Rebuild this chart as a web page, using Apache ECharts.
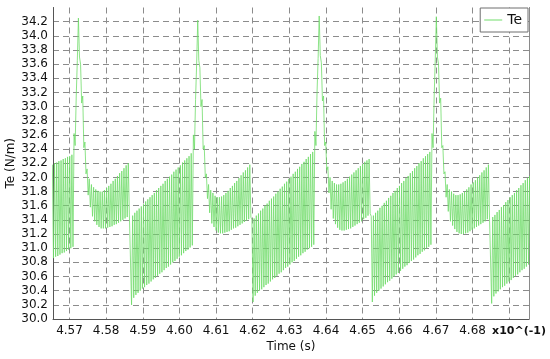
<!DOCTYPE html>
<html>
<head>
<meta charset="utf-8">
<script src="https://cdn.jsdelivr.net/npm/echarts@6/dist/echarts.min.js"></script>
<style>
html,body{margin:0;padding:0;background:#fff;}
#chart{width:550px;height:359px;}
</style>
</head>
<body>
<div id="chart"></div>
<script>
// Sampling of the torque trace (time axis in units of x10^-1 s)
const timeStart = 4.56533;   // time of first sample
const timeStep = 0.000592;   // one switching period
// Te at the first half of each switching period (N/m)
const teA = [
 32.18,32.2,32.21,32.23,32.24,32.26,32.27,32.29,32.3,32.32,
 32.62,33.15,34.25,33.6,33.15,32.5,32.12,31.98,31.9,
 31.86,31.83,31.81,31.8,31.8,31.82,31.85,31.88,31.91,31.95,31.98,32.02,32.06,32.09,32.13,32.17,32.2,
 31.45,
 31.46,31.5,31.53,31.56,31.59,31.62,31.66,31.69,31.72,31.75,31.78,31.82,31.85,31.88,31.91,31.95,31.98,32.01,32.04,32.08,32.11,32.14,32.17,32.21,32.24,32.27,32.3,32.34,
 32.6,33.1,34.22,33.55,33.1,32.45,32.05,31.9,31.82,
 31.78,31.74,31.72,31.72,31.73,31.75,31.78,31.81,31.85,31.88,31.92,31.95,31.99,32.03,32.07,32.1,32.14,32.18,
 31.4,
 31.42,31.46,31.49,31.53,31.56,31.6,31.63,31.67,31.7,31.73,31.77,31.8,31.84,31.87,31.91,31.94,31.98,32.01,32.05,32.08,32.12,32.15,32.19,32.22,32.26,32.29,32.33,32.36,
 32.65,33.2,34.28,33.62,33.15,32.5,32.15,32.0,31.95,
 31.92,31.9,31.9,31.91,31.93,31.95,31.98,32.01,32.04,32.07,32.1,32.13,32.16,32.19,32.22,32.24,32.26,
 31.45,
 31.46,31.5,31.53,31.57,31.6,31.64,31.67,31.71,31.74,31.78,31.81,31.85,31.88,31.92,31.95,31.99,32.02,32.06,32.09,32.13,32.16,32.2,32.23,32.27,32.3,32.33,32.36,
 32.62,33.15,34.27,33.6,33.12,32.45,32.08,31.9,31.83,
 31.8,31.77,31.75,31.75,31.76,31.78,31.8,31.83,31.86,31.9,31.93,31.96,32.0,32.03,32.07,32.1,32.14,32.18,
 31.42,
 31.44,31.47,31.51,31.54,31.58,31.61,31.65,31.68,31.72,31.75,31.78,31.82,31.85,31.89,31.92,31.96,31.99,32.02
];
// Te at the second half of each switching period (N/m)
const teB = [
 30.86,30.88,30.89,30.91,30.93,30.94,30.96,30.98,31.0,31.02,
 32.45,33.65,33.7,33.05,32.42,32.05,31.75,31.58,31.45,
 31.38,31.33,31.3,31.28,31.28,31.28,31.29,31.3,31.31,31.33,31.34,31.36,31.38,31.4,31.42,31.44,31.47,
 30.2,
 30.3,30.34,30.37,30.4,30.43,30.45,30.48,30.5,30.53,30.56,30.58,30.61,30.64,30.66,30.69,30.72,30.74,30.77,30.8,30.82,30.85,30.88,30.9,30.93,30.96,30.98,31.01,31.04,
 32.4,33.6,33.65,33.0,32.4,32.0,31.7,31.5,31.35,
 31.3,31.25,31.22,31.21,31.21,31.22,31.23,31.24,31.26,31.28,31.29,31.31,31.33,31.35,31.37,31.39,31.41,31.44,
 30.24,
 30.33,30.37,30.4,30.42,30.45,30.48,30.5,30.53,30.56,30.58,30.61,30.64,30.66,30.69,30.72,30.74,30.77,30.8,30.82,30.85,30.88,30.9,30.93,30.95,30.98,31.0,31.02,31.05,
 32.45,33.68,33.72,33.08,32.45,32.1,31.78,31.55,31.42,
 31.34,31.29,31.26,31.25,31.25,31.26,31.27,31.28,31.3,31.32,31.34,31.36,31.38,31.41,31.43,31.46,31.49,
 30.24,
 30.33,30.37,30.4,30.43,30.46,30.49,30.52,30.54,30.57,30.6,30.63,30.65,30.68,30.71,30.74,30.76,30.79,30.82,30.84,30.87,30.9,30.92,30.95,30.97,31.0,31.02,31.05,
 32.42,33.66,33.7,33.05,32.42,32.05,31.72,31.52,31.38,
 31.32,31.27,31.23,31.21,31.2,31.2,31.21,31.22,31.24,31.26,31.28,31.3,31.32,31.34,31.36,31.38,31.41,31.44,
 30.22,
 30.32,30.36,30.39,30.42,30.45,30.47,30.5,30.53,30.55,30.58,30.61,30.63,30.66,30.69,30.71,30.74,30.77,30.79
];
const xRange = [4.5655, 4.6954];
const yRange = [30.0, 34.4];
const yStep = 0.2;
const seriesName = 'Te';
const xName = 'Time (s)';
const yName = 'Te (N/m)';
const xScaleNote = 'x10^(-1)';

const data = [];
for (let k = 0; k < teA.length; k++) {
  data.push([timeStart + k * timeStep, teA[k]]);
  data.push([timeStart + (k + 0.5) * timeStep, teB[k]]);
}

// horizontal grid line colours: every line visible except the one at the top edge
const GRID = '#8c8c8c';
const yLineCount = Math.round((yRange[1] - yRange[0]) / yStep) + 1;
const yGridColors = [];
for (let i = 0; i < yLineCount; i++) yGridColors.push(i === yLineCount - 1 ? 'rgba(0,0,0,0)' : GRID);

const FONT = 'DejaVu Sans';
const LINE = '#70dc6a';
const chart = echarts.init(document.getElementById('chart'), null, {renderer: 'canvas'});
chart.setOption({
  animation: false,
  backgroundColor: '#ffffff',
  grid: {left: 53, right: 21, top: 7.5, bottom: 40, show: false,
         containLabel: false, outerBoundsMode: 'none'},
  legend: {
    right: 22, top: 8,
    data: [{name: seriesName, icon: 'rect'}],
    itemWidth: 18, itemHeight: 1,
    itemGap: 4,
    padding: [5, 6, 5, 4],
    backgroundColor: '#ffffff',
    borderColor: '#6e6e6e', borderWidth: 1,
    textStyle: {fontFamily: FONT, fontSize: 14, color: '#111'}
  },
  xAxis: {
    type: 'value', min: xRange[0], max: xRange[1], splitNumber: 13,
    name: xName, nameLocation: 'middle', nameGap: 22, nameMoveOverlap: false,
    nameTextStyle: {fontFamily: FONT, fontSize: 12, color: '#111'},
    axisLine: {show: true, lineStyle: {color: '#555', width: 1}},
    axisTick: {show: false},
    axisLabel: {
      showMinLabel: false, showMaxLabel: false, margin: 6,
      fontFamily: FONT, fontSize: 12, color: '#111',
      formatter: v => (v > 4.685 ? '' : v.toFixed(2))
    },
    splitLine: {show: true, lineStyle: {color: GRID, type: [6, 4], width: 1}}
  },
  yAxis: [{
    type: 'value', min: yRange[0], max: yRange[1], interval: yStep,
    name: yName, nameLocation: 'middle', nameGap: 36, nameRotate: 90, nameMoveOverlap: false,
    nameTextStyle: {fontFamily: FONT, fontSize: 12, color: '#111'},
    axisLine: {show: true, lineStyle: {color: '#555', width: 1}},
    axisTick: {show: false},
    axisLabel: {
      showMaxLabel: false, margin: 5,
      fontFamily: FONT, fontSize: 12, color: '#111',
      formatter: v => v.toFixed(1)
    },
    splitLine: {show: true, lineStyle: {color: yGridColors, type: [6, 4], width: 1}}
  }, {
    type: 'value', position: 'right', min: yRange[0], max: yRange[1], interval: yStep,
    axisLine: {show: true, onZero: false, lineStyle: {color: '#8a8a8a', width: 1}},
    axisTick: {show: false}, axisLabel: {show: false}, splitLine: {show: false}
  }],
  graphic: [{
    type: 'text', right: 4, bottom: 22,
    style: {text: xScaleNote, fontFamily: FONT, fontSize: 11, fontWeight: 'bold', fill: '#111'}
  }],
  series: [{
    name: seriesName, type: 'line', data: data, yAxisIndex: 0,
    showSymbol: false, symbol: 'none', sampling: null,
    lineStyle: {color: LINE, width: 0.8},
    itemStyle: {color: LINE},
    clip: true
  }]
});
</script>
</body>
</html>
